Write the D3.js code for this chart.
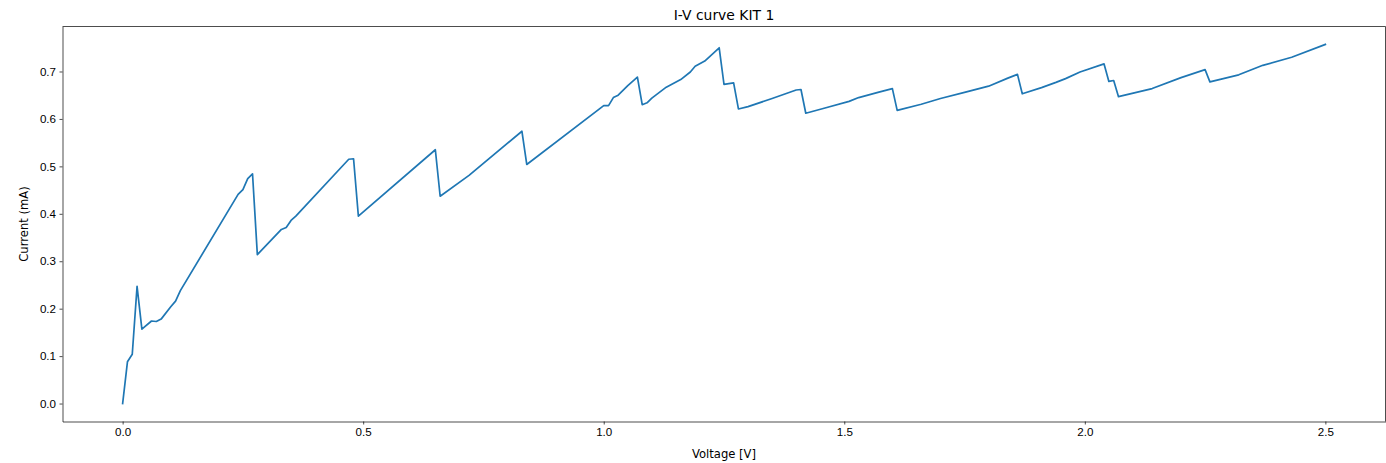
<!DOCTYPE html>
<html>
<head>
<meta charset="utf-8">
<script src="https://cdn.jsdelivr.net/npm/d3@7"></script>
<style>
    body { margin: 0; background: #fff; }
    svg { display: block; font-family: "DejaVu Sans", sans-serif; }
    .tick text { fill: #000; font-size: 11.6px; }
    .tick line, .domain { stroke: #000; stroke-width: 0.7; }
</style>
</head>
<body>
<svg id="chart"></svg>
<script>
// values (curve vertices)
const voltage = [
    0.00, 0.01, 0.02, 0.03, 0.04, 0.06, 0.07, 0.08, 0.10, 0.11, 0.12,
    0.24, 0.25, 0.26, 0.27, 0.28, 0.33, 0.34, 0.35, 0.36, 0.47, 0.48,
    0.49, 0.65, 0.66, 0.72, 0.83, 0.84, 1.00, 1.01, 1.02, 1.03, 1.05,
    1.07, 1.08, 1.09, 1.10, 1.13, 1.16, 1.18, 1.19, 1.21, 1.24, 1.25,
    1.27, 1.28, 1.30, 1.35, 1.40, 1.41, 1.42, 1.46, 1.51, 1.53, 1.57,
    1.60, 1.61, 1.66, 1.70, 1.75, 1.80, 1.84, 1.86, 1.87, 1.91, 1.94,
    1.96, 1.99, 2.04, 2.05, 2.06, 2.07, 2.14, 2.20, 2.25, 2.26, 2.32,
    2.37, 2.43, 2.50
];
const current = [
    0.000, 0.088, 0.104, 0.247, 0.157, 0.174, 0.173, 0.178, 0.204, 0.216, 0.238,
    0.441, 0.451, 0.474, 0.484, 0.314, 0.367, 0.371, 0.386, 0.395, 0.515, 0.516,
    0.395, 0.535, 0.437, 0.481, 0.574, 0.504, 0.628, 0.628, 0.645, 0.650, 0.670,
    0.688, 0.630, 0.634, 0.644, 0.667, 0.683, 0.699, 0.711, 0.722, 0.750, 0.673,
    0.676, 0.621, 0.626, 0.643, 0.661, 0.662, 0.612, 0.623, 0.637, 0.645, 0.656,
    0.664, 0.618, 0.631, 0.643, 0.656, 0.669, 0.686, 0.694, 0.653, 0.666, 0.677,
    0.685, 0.699, 0.716, 0.679, 0.681, 0.647, 0.664, 0.687, 0.704, 0.678, 0.693,
    0.713, 0.730, 0.757
];
const xTicks = [0.0, 0.5, 1.0, 1.5, 2.0, 2.5];
const yTicks = [0.0, 0.1, 0.2, 0.3, 0.4, 0.5, 0.6, 0.7];

const width = 1386, height = 463;
const margin = { top: 26.5, right: 0.5, bottom: 41.5, left: 62.5 };

const svg = d3.select("#chart")
    .attr("width", width)
    .attr("height", height);

// matplotlib style 5% margins around the data
const xMax = d3.max(voltage), yMax = d3.max(current);
const x = d3.scaleLinear()
    .domain([-0.05 * xMax, xMax * 1.05])
    .range([margin.left, width - margin.right]);
const y = d3.scaleLinear()
    .domain([-0.05 * yMax, yMax * 1.05])
    .range([height - margin.bottom, margin.top]);

const points = voltage.map((v, i) => [v, current[i]]);

svg.append("path")
    .datum(points)
    .attr("fill", "none")
    .attr("stroke", "#1f77b4")
    .attr("stroke-width", 1.7)
    .attr("stroke-linejoin", "round")
    .attr("stroke-linecap", "square")
    .attr("d", d3.line().x(d => x(d[0])).y(d => y(d[1])));

// axes
svg.append("g")
    .attr("transform", `translate(0,${height - margin.bottom})`)
    .call(d3.axisBottom(x).tickValues(xTicks).tickFormat(d3.format(".1f"))
        .tickSizeInner(3).tickSizeOuter(0).tickPadding(3.5));

svg.append("g")
    .attr("transform", `translate(${margin.left},0)`)
    .call(d3.axisLeft(y).tickValues(yTicks).tickFormat(d3.format(".1f"))
        .tickSizeInner(3).tickSizeOuter(0).tickPadding(3.5));

// frame (top and right spines)
svg.append("line")
    .attr("x1", margin.left).attr("x2", width - margin.right)
    .attr("y1", margin.top).attr("y2", margin.top)
    .attr("stroke", "#000").attr("stroke-width", 0.7);
svg.append("line")
    .attr("x1", width - margin.right).attr("x2", width - margin.right)
    .attr("y1", margin.top).attr("y2", height - margin.bottom)
    .attr("stroke", "#000").attr("stroke-width", 0.7);

// labels
const plotMidX = (margin.left + width - margin.right) / 2;
const plotMidY = (margin.top + height - margin.bottom) / 2;

svg.append("text")
    .attr("x", plotMidX)
    .attr("y", 19.5)
    .attr("text-anchor", "middle")
    .style("font-size", "13.9px")
    .text("I-V curve KIT 1");

svg.append("text")
    .attr("x", plotMidX)
    .attr("y", 458)
    .attr("text-anchor", "middle")
    .style("font-size", "11.6px")
    .text("Voltage [V]");

svg.append("text")
    .attr("transform", `translate(28,${plotMidY}) rotate(-90)`)
    .attr("text-anchor", "middle")
    .style("font-size", "11.6px")
    .text("Current (mA)");
</script>
</body>
</html>
